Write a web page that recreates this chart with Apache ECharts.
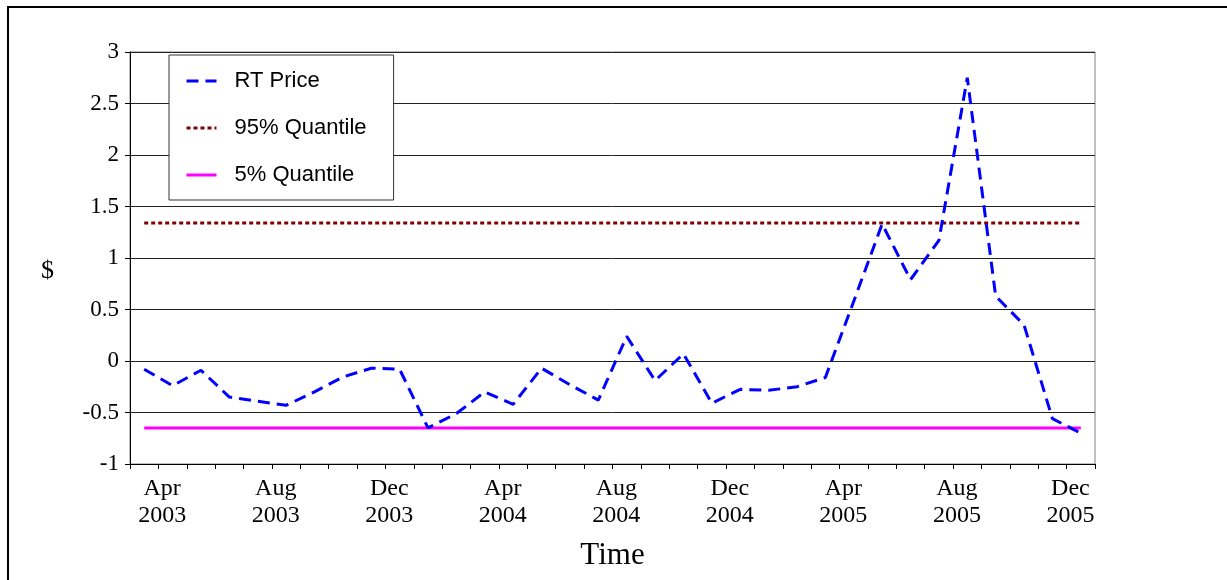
<!DOCTYPE html>
<html>
<head>
<meta charset="utf-8">
<script src="https://cdn.jsdelivr.net/npm/echarts@6/dist/echarts.min.js"></script>
<style>html,body{margin:0;padding:0;background:#fff}#c{width:1227px;height:580px}</style>
</head>
<body>
<div id="c"></div>
<script>
const months = ["Apr 2003","May 2003","Jun 2003","Jul 2003","Aug 2003","Sep 2003","Oct 2003","Nov 2003","Dec 2003","Jan 2004","Feb 2004","Mar 2004","Apr 2004","May 2004","Jun 2004","Jul 2004","Aug 2004","Sep 2004","Oct 2004","Nov 2004","Dec 2004","Jan 2005","Feb 2005","Mar 2005","Apr 2005","May 2005","Jun 2005","Jul 2005","Aug 2005","Sep 2005","Oct 2005","Nov 2005","Dec 2005","Jan 2006"];
const rtPrice = [-0.08,-0.24,-0.09,-0.35,-0.39,-0.43,-0.30,-0.155,-0.07,-0.08,-0.65,-0.51,-0.30,-0.42,-0.07,-0.23,-0.38,0.24,-0.19,0.07,-0.41,-0.275,-0.285,-0.25,-0.16,0.58,1.33,0.79,1.17,2.75,0.63,0.35,-0.56,-0.70];
const quantile95 = [1.34,1.34,1.34,1.34,1.34,1.34,1.34,1.34,1.34,1.34,1.34,1.34,1.34,1.34,1.34,1.34,1.34,1.34,1.34,1.34,1.34,1.34,1.34,1.34,1.34,1.34,1.34,1.34,1.34,1.34,1.34,1.34,1.34,1.34];
const quantile5 = [-0.65,-0.65,-0.65,-0.65,-0.65,-0.65,-0.65,-0.65,-0.65,-0.65,-0.65,-0.65,-0.65,-0.65,-0.65,-0.65,-0.65,-0.65,-0.65,-0.65,-0.65,-0.65,-0.65,-0.65,-0.65,-0.65,-0.65,-0.65,-0.65,-0.65,-0.65,-0.65,-0.65,-0.65];
const seriesNames = ["RT Price","95% Quantile","5% Quantile"];
const yTicks = {min:-1, max:3, interval:0.5};

const serif = "'Liberation Serif','Times New Roman',serif";
const sans = "'Liberation Sans',Arial,sans-serif";
const chart = echarts.init(document.getElementById('c'), null, {renderer:'canvas'});
chart.setOption({
  animation:false,
  backgroundColor:'#fff',
  graphic:[{type:'rect', shape:{x:8,y:7,width:1400,height:800}, style:{fill:'none',stroke:'#000',lineWidth:2}, silent:true}],
  grid:{left:130,right:132,top:52,bottom:116,show:true,borderColor:'#808080',borderWidth:1,backgroundColor:'transparent'},
  legend:{
    orient:'vertical', left:169, top:55,
    data:seriesNames,
    borderColor:'#333', borderWidth:1, backgroundColor:'#fff',
    padding:[15,27,14,16], itemGap:25, itemWidth:30, itemHeight:2,
    itemStyle:{opacity:0},
    lineStyle:{width:3},
    textStyle:{fontFamily:sans,fontSize:22,color:'#000',padding:[0,0,0,13]}
  },
  xAxis:{
    type:'category', data:months, boundaryGap:true,
    name:'Time', nameLocation:'middle', nameGap:76,
    nameTextStyle:{fontFamily:serif,fontSize:31,color:'#000'},
    axisLine:{onZero:false,lineStyle:{color:'#000',width:1}},
    axisTick:{show:true,interval:0,length:5,lineStyle:{color:'#000'}},
    axisLabel:{interval:3, fontFamily:serif, fontSize:24, color:'#000', lineHeight:27, margin:11,
      padding:[0,0,0,36],
      formatter:function(v){return v.replace(' ','\n');}},
    splitLine:{show:false}
  },
  yAxis:{
    type:'value', min:yTicks.min, max:yTicks.max, interval:yTicks.interval,
    name:'$', nameLocation:'middle', nameRotate:0, nameGap:76,
    nameTextStyle:{fontFamily:serif,fontSize:26,color:'#000',verticalAlign:'top'},
    axisLine:{show:true,lineStyle:{color:'#000',width:1}},
    axisTick:{show:true,length:5,lineStyle:{color:'#000'}},
    axisLabel:{fontFamily:serif,fontSize:23,color:'#000',margin:11},
    splitLine:{show:true,lineStyle:{color:'#222',width:1}}
  },
  series:[
    {name:seriesNames[1], type:'line', data:quantile95, symbol:'none', z:2,
      lineStyle:{color:'#800000',width:3,type:[4,3]}, itemStyle:{color:'#800000'}},
    {name:seriesNames[2], type:'line', data:quantile5, symbol:'none', z:2,
      lineStyle:{color:'#FF00FF',width:3,type:'solid'}, itemStyle:{color:'#FF00FF'}},
    {name:seriesNames[0], type:'line', data:rtPrice, symbol:'none', z:3,
      lineStyle:{color:'#0000FF',width:3,type:[12,7]}, itemStyle:{color:'#0000FF'}}
  ]
});
</script>
</body>
</html>
